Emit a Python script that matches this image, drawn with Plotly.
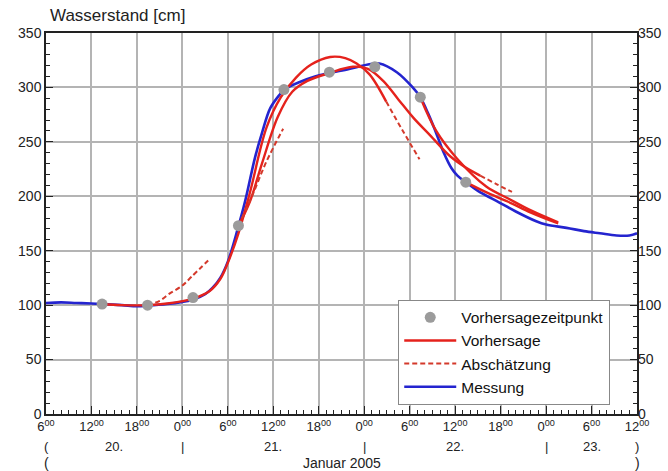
import plotly.graph_objects as go

# ---------------- data (hours since 20.01.2005 00:00, water level in cm) -------------
mess_t = [6, 8, 10, 12, 13.4, 16, 18, 19.4, 22, 24, 25.4, 27, 28, 29, 30, 31.3, 32.3, 33.6,
          34.5, 35.6, 36.9, 37.4, 39.5, 41.5, 43.3, 46, 48.5, 50, 52.3, 54.4, 55.4, 56.5,
          57.5, 58.5, 59.5, 60.3, 61.4, 63, 65.9, 68, 70.7, 72, 74.7, 77, 79.1, 81.3, 83, 84]
mess_v = [102, 102.5, 102, 101.5, 101, 100, 99, 99.5, 101, 103, 105, 110, 116, 125, 140, 170,
          196, 236, 258, 281, 294, 298, 305, 310, 313, 317, 321, 322, 314, 300, 291, 275,
          258, 240, 226, 219, 213, 205, 194, 186, 177, 174, 171, 168, 166, 164, 164, 166]

punkt_t = [13.4, 19.4, 25.4, 31.4, 37.4, 43.4, 49.4, 55.4, 61.4]
punkt_v = [101, 100, 107, 173, 298, 314, 319, 291, 213]

# forecasts (solid)
vh1_t = [13.4, 16, 19.4, 22, 25.4, 27.6, 29, 30, 31.4, 32.9, 35.1, 37, 39, 41, 43.5, 45.5, 47, 48.7, 50.9]
vh1_v = [101, 100, 100, 101.5, 106, 113, 124, 139, 166, 203, 263, 291, 309, 321, 328, 327, 322, 312, 287]
vh2_t = [31.4, 32.9, 34.5, 36.6, 38.5, 40.5, 43.3, 46.5, 48.5, 50.5, 52.5, 54.5, 56.7, 59.3, 61.5, 63.3]
vh2_v = [173, 195, 230, 273, 296, 306, 313, 319, 317, 306, 289, 272, 256, 237, 226, 219]
vh3_t = [55.4, 57.5, 60.2, 64.1, 67, 70, 73.6]
vh3_v = [291, 260, 235, 209, 198, 187, 176]
vh4_t = [61.4, 64, 67, 70, 73.6]
vh4_v = [213, 204, 195, 185, 175]

# estimates (dashed)
ab1_t = [19.4, 21, 22.4, 24, 25.2, 27.4]
ab1_v = [100, 104, 111, 118, 126, 141]
ab2_t = [31.4, 33.3, 35.1, 37.3]
ab2_v = [173, 202, 232, 262]
ab3_t = [50.9, 53.1, 55.3]
ab3_v = [287, 260, 234]
ab4_t = [63.3, 65.5, 67.5]
ab4_v = [219, 211, 204]

x_tickvals = [6, 12, 18, 24, 30, 36, 42, 48, 54, 60, 66, 72, 78, 84]
x_hours = ["6", "12", "18", "0", "6", "12", "18", "0", "6", "12", "18", "0", "6", "12"]
day_pos = [6, 15, 24, 36, 48, 60, 72, 78, 84]
day_txt = ["(", "20.", "|", "21.", "|", "22.", "|", "23.", ")"]
month_pos = [6, 45, 84]
month_txt = ["(", "Januar 2005", ")"]

# ---------------- styles -------------
RED = "#e5221c"
DRED = "#d4392b"
BLUE = "#2424cf"
GRAY = "#9b9b9b"
FONT = "Liberation Sans, Arial, sans-serif"
INK = "#222"

fig = go.Figure()

fig.add_trace(go.Scatter(x=mess_t, y=mess_v, mode="lines", name="Messung",
                         line=dict(color=BLUE, width=2.6, shape="spline"), legendrank=4))

for i, (t, v) in enumerate([(vh1_t, vh1_v), (vh2_t, vh2_v), (vh3_t, vh3_v), (vh4_t, vh4_v)]):
    fig.add_trace(go.Scatter(x=t, y=v, mode="lines", name="Vorhersage", legendgroup="vh",
                             showlegend=(i == 0), legendrank=2,
                             line=dict(color=RED, width=2.4, shape="spline")))

for i, (t, v) in enumerate([(ab1_t, ab1_v), (ab2_t, ab2_v), (ab3_t, ab3_v), (ab4_t, ab4_v)]):
    fig.add_trace(go.Scatter(x=t, y=v, mode="lines", name="Abschätzung", legendgroup="ab",
                             showlegend=(i == 0), legendrank=3,
                             line=dict(color=DRED, width=2, dash="5px,3px", shape="spline")))

fig.add_trace(go.Scatter(x=punkt_t, y=punkt_v, mode="markers", name="Vorhersagezeitpunkt",
                         marker=dict(color=GRAY, size=11), legendrank=1))

# dummy traces carrying the right y axis and the hourly minor-tick x axis
fig.add_trace(go.Scatter(x=[6, 84], y=[0, 0], yaxis="y2", mode="lines",
                         line=dict(width=0), showlegend=False, hoverinfo="skip"))
fig.add_trace(go.Scatter(x=[6, 84], y=[0, 0], xaxis="x2", mode="lines",
                         line=dict(width=0), showlegend=False, hoverinfo="skip"))

tick_text = [h + "<sup>00</sup>" for h in x_hours]

common_y = dict(range=[0, 350], tick0=0, dtick=50, ticks="inside", ticklen=7,
                tickwidth=1, tickcolor=INK, zeroline=False, automargin=False,
                minor=dict(dtick=10, tick0=0, ticks="inside", ticklen=4, tickcolor=INK, showgrid=False),
                tickfont=dict(size=14, color=INK, family=FONT))

fig.update_layout(
    width=668, height=471,
    margin=dict(l=46, r=31, t=33, b=57),
    paper_bgcolor="white", plot_bgcolor="white",
    font=dict(family=FONT, color=INK),
    showlegend=True,
    legend=dict(x=0.596, y=0.30, xanchor="left", yanchor="top",
                bgcolor="white", bordercolor="#888", borderwidth=1,
                font=dict(size=15.5, family=FONT, color="#111"),
                tracegroupgap=0, itemwidth=52),
    xaxis=dict(range=[6, 84], tickmode="array", tickvals=x_tickvals, ticktext=tick_text,
               ticks="inside", ticklen=8, tickwidth=1, tickcolor=INK, automargin=False,
               showgrid=True, gridcolor="#b4b4b4", gridwidth=1.5,
               showline=True, linecolor=INK, linewidth=1.5, mirror=True,
               zeroline=False, tickfont=dict(size=13, color=INK, family=FONT)),
    xaxis2=dict(range=[6, 84], overlaying="x", side="bottom", tickmode="linear", tick0=6, dtick=1,
                ticks="inside", ticklen=4, tickwidth=1, tickcolor=INK, showticklabels=False,
                showgrid=False, zeroline=False, showline=False, automargin=False),
    yaxis=dict(showgrid=True, gridcolor="#b4b4b4", gridwidth=1.5,
               showline=True, linecolor=INK, linewidth=1.5, mirror=True, **common_y),
    yaxis2=dict(overlaying="y", side="right", showgrid=False, showline=False, **common_y),
)

ann = []
for p, s in zip(day_pos, day_txt):
    ann.append(dict(x=p, y=-0.086, xref="x", yref="paper", text=s, showarrow=False,
                    xanchor="center", yanchor="middle", font=dict(size=13, family=FONT, color=INK)))
for p, s in zip(month_pos, month_txt):
    ann.append(dict(x=p, y=-0.128, xref="x", yref="paper", text=s, showarrow=False,
                    xanchor="center", yanchor="middle", font=dict(size=14, family=FONT, color=INK)))
ann.append(dict(x=0.003, y=1.045, xref="paper", yref="paper", text="Wasserstand [cm]",
                showarrow=False, xanchor="left", yanchor="middle",
                font=dict(size=17, family=FONT, color=INK)))
fig.update_layout(annotations=ann)

fig.write_html("out.html", config={"displayModeBar": False},
               post_script="document.body.style.margin='0';document.body.style.padding='0';")
